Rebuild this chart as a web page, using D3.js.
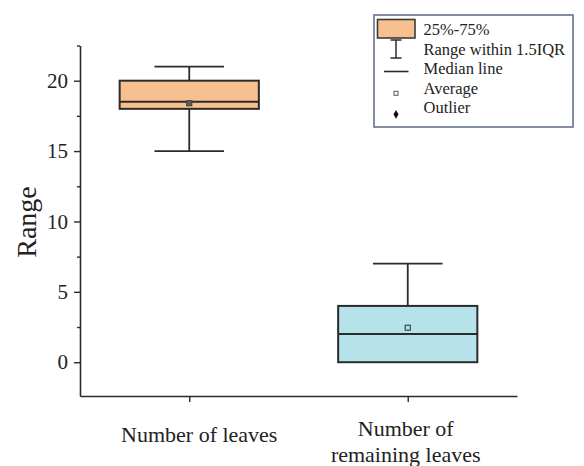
<!DOCTYPE html>
<html>
<head>
<meta charset="utf-8">
<script src="https://cdn.jsdelivr.net/npm/d3@7"></script>
<style>
  html, body { margin: 0; padding: 0; background: #fff; }
  svg { display: block; }
  text { font-family: "Liberation Serif", "Times New Roman", serif; fill: #222; }
</style>
</head>
<body>
<svg id="chart" width="584" height="466"></svg>
<script>
// Box statistics for each group
const categories = ["Number of leaves", "Number of remaining leaves"];
const labelLines = [["Number of leaves"], ["Number of", "remaining leaves"]];
const whiskerLow = [15, 0];
const q1 = [18, 0];
const median = [18.5, 2];
const q3 = [20, 4];
const whiskerHigh = [21, 7];
const mean = [18.4, 2.45];
const fills = ["#F8C08F", "#B5E3E9"];

const yMajorTicks = [0, 5, 10, 15, 20];
const yMinorTicks = [2.5, 7.5, 12.5, 17.5, 22.5];
const legendItems = ["25%-75%", "Range within 1.5IQR", "Median line", "Average", "Outlier"];

const svg = d3.select("#chart");
const ink = "#2b2b2b";

const plotLeft = 80, plotRight = 517, plotTop = 45.5, plotBottom = 396;

const x = d3.scalePoint().domain(categories).range([plotLeft, plotRight]).padding(0.5);
const y = d3.scaleLinear().domain([-2.4, 22.5]).range([plotBottom, plotTop]);
const boxW = x.step() * 0.637;
const capW = boxW / 2;

// Y axis: major ticks with labels, minor ticks without
const yAxis = svg.append("g").attr("transform", `translate(${plotLeft},0)`)
  .call(d3.axisLeft(y).tickValues(yMajorTicks).tickSize(6).tickSizeOuter(0).tickPadding(6));
yAxis.select(".domain").attr("stroke", ink).attr("stroke-width", 1.6);
yAxis.selectAll(".tick line").attr("stroke", ink).attr("stroke-width", 1.4);
yAxis.selectAll(".tick text")
  .style("font-family", "'Liberation Serif', serif")
  .style("font-size", "21px").attr("fill", "#222");

const yMinor = svg.append("g").attr("transform", `translate(${plotLeft},0)`)
  .call(d3.axisLeft(y).tickValues(yMinorTicks).tickSize(3).tickSizeOuter(0).tickFormat(""));
yMinor.select(".domain").remove();
yMinor.selectAll(".tick line").attr("stroke", ink).attr("stroke-width", 1.4);

// X axis
const xAxis = svg.append("g").attr("transform", `translate(0,${plotBottom})`)
  .call(d3.axisBottom(x).tickSize(6).tickSizeOuter(0).tickFormat(""));
xAxis.select(".domain").attr("stroke", ink).attr("stroke-width", 1.6);
xAxis.selectAll(".tick line").attr("stroke", ink).attr("stroke-width", 1.4);

// Category labels under the axis
const labelDx = [10, -2];
categories.forEach((c, i) => {
  const lines = labelLines[i];
  const firstBase = lines.length === 1 ? 441.5 : 436;
  const t = svg.append("text")
    .attr("text-anchor", "middle")
    .style("font-size", "22px");
  lines.forEach((ln, k) => {
    t.append("tspan")
      .attr("x", x(c) + labelDx[i])
      .attr("y", firstBase + k * 25.7)
      .text(ln);
  });
});

// Y axis title
svg.append("text")
  .attr("transform", "translate(36,222) rotate(-90)")
  .attr("text-anchor", "middle")
  .style("font-size", "28px")
  .text("Range");

// Boxes
const g = svg.append("g");
categories.forEach((c, i) => {
  const cx = x(c);
  // whisker stems
  g.append("line").attr("x1", cx).attr("x2", cx)
    .attr("y1", y(q3[i])).attr("y2", y(whiskerHigh[i]))
    .attr("stroke", ink).attr("stroke-width", 1.8);
  g.append("line").attr("x1", cx).attr("x2", cx)
    .attr("y1", y(q1[i])).attr("y2", y(whiskerLow[i]))
    .attr("stroke", ink).attr("stroke-width", 1.8);
  // caps
  [whiskerHigh[i], whiskerLow[i]].forEach(v => {
    g.append("line").attr("x1", cx - capW / 2).attr("x2", cx + capW / 2)
      .attr("y1", y(v)).attr("y2", y(v))
      .attr("stroke", ink).attr("stroke-width", 1.8);
  });
  // box
  g.append("rect")
    .attr("x", cx - boxW / 2).attr("width", boxW)
    .attr("y", y(q3[i])).attr("height", y(q1[i]) - y(q3[i]))
    .attr("fill", fills[i]).attr("stroke", ink).attr("stroke-width", 2);
  // median
  g.append("line").attr("x1", cx - boxW / 2).attr("x2", cx + boxW / 2)
    .attr("y1", y(median[i])).attr("y2", y(median[i]))
    .attr("stroke", ink).attr("stroke-width", 2);
  // mean marker
  g.append("rect")
    .attr("x", cx - 2.5).attr("y", y(mean[i]) - 2.5)
    .attr("width", 5).attr("height", 5)
    .attr("fill", i === 0 ? "#6b5a4a" : "none")
    .attr("stroke", "#3a4a4c").attr("stroke-width", 1.2);
});

// Legend
const lg = svg.append("g");
lg.append("rect").attr("x", 374).attr("y", 15).attr("width", 199).attr("height", 112)
  .attr("fill", "#fff").attr("stroke", "#5b6a88").attr("stroke-width", 1.5);

const rowCenter = [28.7, 49, 71.5, 93.3, 114.3];
const rowBase = [35, 55, 74, 93.5, 113];
const mx = 396;

// 25%-75% swatch
lg.append("rect").attr("x", 377.5).attr("y", 19.5).attr("width", 37.5).attr("height", 18.5)
  .attr("fill", fills[0]).attr("stroke", "#3a3a3a").attr("stroke-width", 1.6);
// whisker range symbol
lg.append("line").attr("x1", mx).attr("x2", mx).attr("y1", rowCenter[1] - 9).attr("y2", rowCenter[1] + 9)
  .attr("stroke", ink).attr("stroke-width", 1.5);
[-9, 9].forEach(d => lg.append("line")
  .attr("x1", mx - 5.5).attr("x2", mx + 5.5).attr("y1", rowCenter[1] + d).attr("y2", rowCenter[1] + d)
  .attr("stroke", ink).attr("stroke-width", 1.5));
// median line symbol
lg.append("line").attr("x1", 384).attr("x2", 408.5).attr("y1", rowCenter[2]).attr("y2", rowCenter[2])
  .attr("stroke", ink).attr("stroke-width", 1.6);
// average symbol
lg.append("rect").attr("x", mx - 2).attr("y", rowCenter[3] - 2).attr("width", 4).attr("height", 4)
  .attr("fill", "none").attr("stroke", "#666").attr("stroke-width", 1.1);
// outlier symbol
lg.append("path").attr("d", d3.symbol(d3.symbolDiamond, 22)())
  .attr("transform", `translate(${mx},${rowCenter[4]})`).attr("fill", "#111");

legendItems.forEach((t, i) => {
  lg.append("text").attr("x", 423.5).attr("y", rowBase[i])
    .style("font-size", "16.5px").text(t);
});
</script>
</body>
</html>
